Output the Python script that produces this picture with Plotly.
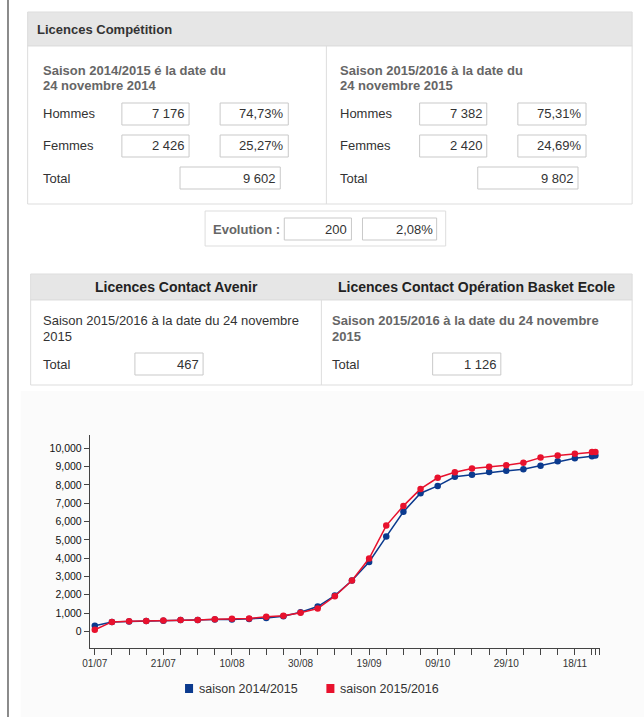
import plotly.graph_objects as go

W, H = 644, 717

# ---------------- data ----------------
dates = ["2015-07-01", "2015-07-06", "2015-07-11", "2015-07-16", "2015-07-21", "2015-07-26",
         "2015-07-31", "2015-08-05", "2015-08-10", "2015-08-15", "2015-08-20", "2015-08-25",
         "2015-08-30", "2015-09-04", "2015-09-09", "2015-09-14", "2015-09-19", "2015-09-24",
         "2015-09-29", "2015-10-04", "2015-10-09", "2015-10-14", "2015-10-19", "2015-10-24",
         "2015-10-29", "2015-11-03", "2015-11-08", "2015-11-13", "2015-11-18", "2015-11-23",
         "2015-11-24"]
saison_2014 = [310, 520, 540, 565, 580, 620, 620, 650, 650, 680, 730, 830, 1050, 1360, 1960,
               2780, 3790, 5180, 6530, 7545, 7945, 8440, 8550, 8700, 8770, 8850, 9050, 9290,
               9455, 9565, 9602]
saison_2015 = [90, 520, 560, 570, 600, 620, 630, 660, 690, 700, 800, 850, 1020, 1250, 1920,
               2780, 3980, 5780, 6855, 7780, 8390, 8690, 8890, 8990, 9070, 9215, 9490, 9610,
               9695, 9790, 9802]
series_names = ["saison 2014/2015", "saison 2015/2016"]
series_colors = ["#0b3a8e", "#e8112d"]
x_labels = {"2015-07-01": "01/07", "2015-07-21": "21/07", "2015-08-10": "10/08",
            "2015-08-30": "30/08", "2015-09-19": "19/09", "2015-10-09": "09/10",
            "2015-10-29": "29/10", "2015-11-18": "18/11"}
y_ticks = [0, 1000, 2000, 3000, 4000, 5000, 6000, 7000, 8000, 9000, 10000]

# tables
saison_titles = ["Saison 2014/2015 é la date du", "Saison 2015/2016 à la date du"]
saison_dates = ["24 novembre 2014", "24 novembre 2015"]
hommes = ["7 176", "7 382"]
hommes_pct = ["74,73%", "75,31%"]
femmes = ["2 426", "2 420"]
femmes_pct = ["25,27%", "24,69%"]
totaux = ["9 602", "9 802"]
evolution = ["200", "2,08%"]
contact_titles = ["Licences Contact Avenir", "Licences Contact Opération Basket Ecole"]
contact_totaux = ["467", "1 126"]

FONT = "Liberation Sans, Arial, sans-serif"

shapes = []
annotations = []

# horizontal compensation for the way the page is photographed
OFF, SC = 8.4, 0.9867


def X(px):
    return ((px - OFF) / SC) / W


def Y(py):
    return 1 - py / H


def rect(x0, y0, x1, y1, fill="white", line="#dddddd", lw=1, layer="below"):
    shapes.append(dict(type="rect", xref="paper", yref="paper", x0=X(x0), x1=X(x1),
                       y0=Y(y1), y1=Y(y0), fillcolor=fill,
                       line=dict(color=line, width=lw), layer=layer))


def vline(x, y0, y1, color="#dddddd"):
    shapes.append(dict(type="line", xref="paper", yref="paper", x0=X(x), x1=X(x),
                       y0=Y(y1), y1=Y(y0), line=dict(color=color, width=1), layer="below"))


def text(x, y, s, size=13, bold=False, color="#333333", anchor="left"):
    annotations.append(dict(xref="paper", yref="paper", x=X(x), y=Y(y), text=(f"<b>{s}</b>" if bold else s),
                            showarrow=False, xanchor=anchor, yanchor="middle",
                            font=dict(family=FONT, size=size, color=color), borderpad=0))


def box(x0, y0, x1, y1, value):
    rect(x0, y0, x1, y1, fill="white", line="#c9c9c9")
    text(x1 - 3, (y0 + y1) / 2, value, anchor="right")


# left page border
shapes.append(dict(type="rect", xref="paper", yref="paper", x0=0, x1=2 / W, y0=0, y1=1,
                   fillcolor="#8a8a8a", line=dict(width=0), layer="below"))

# ---- Licences Compétition ----
rect(29, 12, 632, 46, fill="#e6e6e6", line="#dddddd")
text(37, 29, "Licences Compétition", bold=True, color="#333333")
rect(29, 46, 632, 204, fill="white", line="#dddddd")
vline(327, 46, 204)

for i, ox in enumerate([0, 297]):
    text(43 + ox, 70, saison_titles[i], bold=True, color="#666666")
    text(43 + ox, 86, saison_dates[i], bold=True, color="#666666")
    text(43 + ox, 114, "Hommes")
    text(43 + ox, 146, "Femmes")
    text(43 + ox, 178, "Total")
    box(123 + ox, 103, 190 + ox, 125, hommes[i])
    box(221 + ox, 103, 289 + ox, 125, hommes_pct[i])
    box(123 + ox, 135, 190 + ox, 157, femmes[i])
    box(221 + ox, 135, 289 + ox, 157, femmes_pct[i])
    box(181 + ox, 167, 281 + ox, 189, totaux[i])

rect(206, 211, 446, 246, fill="white", line="#dddddd")
text(213, 229, "Evolution :", bold=True, color="#666666")
box(285, 218, 352, 240, evolution[0])
box(363, 218, 437, 240, evolution[1])

# ---- Licences Contact ----
rect(32, 274, 632, 300, fill="#e6e6e6", line="#dddddd")
text(177, 287, contact_titles[0], size=14, bold=True, color="#222222", anchor="center")
text(477, 287, contact_titles[1], size=14, bold=True, color="#222222", anchor="center")
rect(32, 300, 632, 385, fill="white", line="#dddddd")
vline(322, 300, 385)

text(43, 320, "Saison 2015/2016 à la date du 24 novembre", color="#333333")
text(43, 336, "2015", color="#333333")
text(332, 320, "Saison 2015/2016 à la date du 24 novembre", bold=True, color="#666666")
text(332, 336, "2015", bold=True, color="#666666")
text(43, 364, "Total")
text(332, 364, "Total")
box(136, 353, 204, 375, contact_totaux[0])
box(433, 353, 501, 375, contact_totaux[1])

# chart background
rect(22, 391, 650, 717, fill="#fbfbfb", line="#fbfbfb", lw=0)

# legend (squares + labels)
for name, col, lx in zip(series_names, series_colors, [186, 327]):
    rect(lx, 684, lx + 8, 693, fill=col, line=col, lw=0)
    text(lx + 13, 688.5, name, size=12.5, color="#333333")

# ---------------- chart ----------------
fig = go.Figure()
for name, vals, col in zip(series_names, [saison_2014, saison_2015], series_colors):
    fig.add_trace(go.Scatter(x=dates, y=vals, mode="lines+markers", name=name,
                             line=dict(color=col, width=1.5),
                             marker=dict(color=col, size=6.5), showlegend=False))

tickvals = dates + ["2015-11-25 08:00"]
ticktext = [x_labels.get(d, "") for d in dates] + [""]

fig.update_layout(
    width=W, height=H, margin=dict(l=0, r=0, t=0, b=0),
    paper_bgcolor="white", plot_bgcolor="rgba(0,0,0,0)",
    shapes=shapes, annotations=annotations,
    font=dict(family=FONT),
    showlegend=False,
    xaxis=dict(domain=[X(91), min(1.0, X(600))], type="date",
               range=["2015-06-29 13:00", "2015-11-25 08:30"],
               tickvals=tickvals, ticktext=ticktext, ticks="outside", ticklen=6,
               tickcolor="#444444", showline=True, linecolor="#444444", linewidth=1,
               showgrid=False, zeroline=False, tickfont=dict(size=10, color="#333333"),
               anchor="y"),
    yaxis=dict(domain=[Y(648), Y(435)], range=[-905, 10725],
               tickvals=y_ticks, tickformat=",d", ticks="outside", ticklen=5,
               tickcolor="#444444", showline=True, linecolor="#444444", linewidth=1,
               showgrid=False, zeroline=False, tickfont=dict(size=10.5, color="#111111"),
               anchor="x"),
)

post = ("var s=document.documentElement.style;s.margin='0';s.padding='0';s.overflow='hidden';"
        "var b=document.body.style;b.margin='0';b.padding='0';b.overflow='hidden';")
fig.write_html("out.html", config={"displayModeBar": False}, post_script=post)
